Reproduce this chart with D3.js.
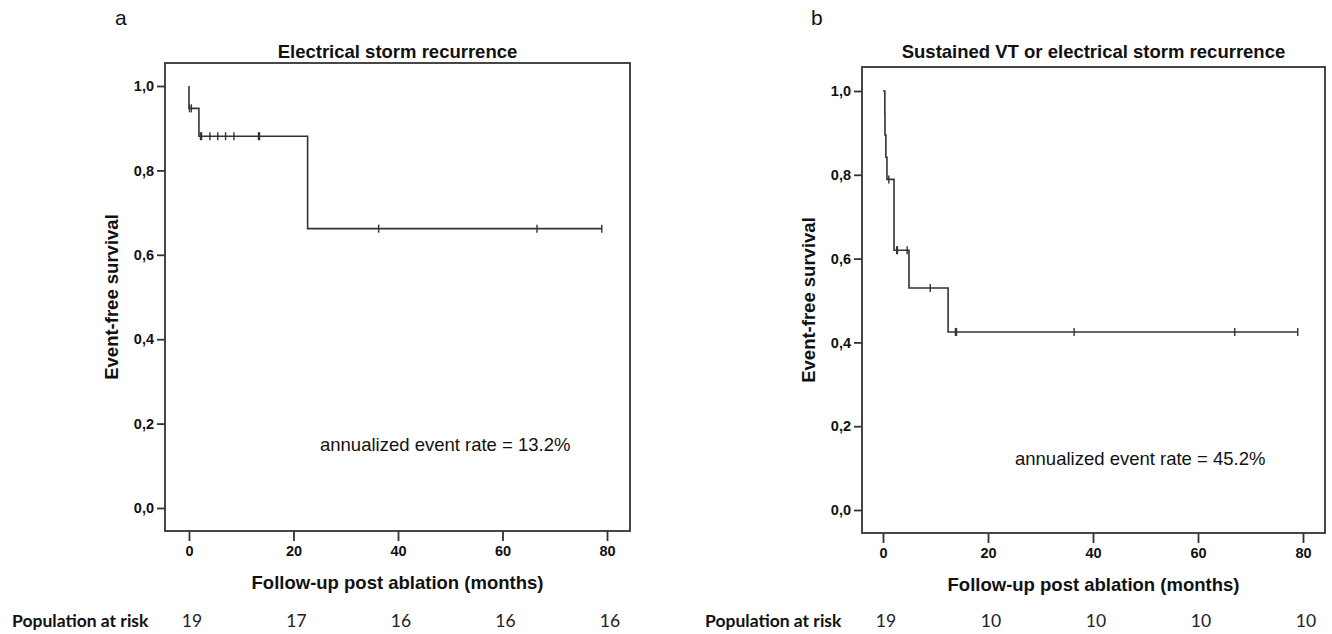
<!DOCTYPE html>
<html>
<head>
<meta charset="utf-8">
<script src="https://cdn.jsdelivr.net/npm/d3@7"></script>
<style>
  body { margin: 0; background: #fff; }
  svg { display: block; }
</style>
</head>
<body>
<svg id="chart" width="1332" height="634"></svg>
<script>
// Kaplan-Meier data
// panel a - electrical storm recurrence
const stormTimes = [0, 0, 1.9, 22.7, 79];
const stormSurv = [1.0, 0.947, 0.881, 0.662, 0.662];
const stormCensor = [0.1, 0.45, 2.2, 2.4, 4.0, 5.5, 7.0, 8.6, 13.3, 13.5, 36.3, 66.6, 79];

// panel b - sustained VT or electrical storm recurrence
const vtTimes = [0, 0.35, 0.38, 0.55, 0.75, 2.1, 4.95, 12.4, 79];
const vtSurv = [1.0, 0.947, 0.895, 0.842, 0.789, 0.62, 0.53, 0.425, 0.425];
const vtCensor = [1.1, 2.6, 2.75, 4.6, 9.0, 13.8, 14.0, 36.4, 67, 79];

// axis ticks and risk table
const xTicks = [0, 20, 40, 60, 80];
const yTicks = [0, 0.2, 0.4, 0.6, 0.8, 1.0];
const riskTimes = [0, 20, 40, 60, 80];
const riskStorm = [19, 17, 16, 16, 16];
const riskVT = [19, 10, 10, 10, 10];

const svg = d3.select("#chart");
const lineColor = "#333";
const fmt = d => d3.format(".1f")(d).replace(".", ",");

function drawPanel(p) {
  const g = svg.append("g");
  const x = d3.scaleLinear().domain([0, 80]).range([p.x0, p.x80]);
  const y = d3.scaleLinear().domain([0, 1]).range([p.y0, p.y1]);

  // panel letter
  g.append("text").attr("x", p.letterX).attr("y", 25)
    .attr("font-family", "Liberation Sans, Arial").attr("font-size", 21)
    .attr("fill", "#111").text(p.letter);

  // title
  g.append("text").attr("x", (p.left + p.right) / 2).attr("y", 58)
    .attr("text-anchor", "middle")
    .attr("font-family", "Liberation Sans, Arial").attr("font-weight", "bold")
    .attr("font-size", 18.5).attr("fill", "#111").text(p.title);

  // frame
  g.append("rect").attr("x", p.left).attr("y", p.top)
    .attr("width", p.right - p.left).attr("height", p.bottom - p.top)
    .attr("fill", "none").attr("stroke", lineColor).attr("stroke-width", 1.8);

  // y axis (ticks outside the frame)
  const yAxis = d3.axisLeft(y).tickValues(yTicks).tickFormat(fmt).tickSize(8).tickPadding(3);
  const ya = g.append("g").attr("transform", `translate(${p.left},0)`).call(yAxis);
  ya.select(".domain").remove();
  ya.selectAll("line").attr("stroke", lineColor).attr("stroke-width", 1.8);
  ya.selectAll("text").attr("font-family", "Liberation Sans, Arial")
    .attr("font-weight", "bold").attr("font-size", 14.5).attr("fill", "#111");

  // x axis
  const xAxis = d3.axisBottom(x).tickValues(xTicks).tickSize(10).tickPadding(5);
  const xa = g.append("g").attr("transform", `translate(0,${p.bottom})`).call(xAxis);
  xa.select(".domain").remove();
  xa.selectAll("line").attr("stroke", lineColor).attr("stroke-width", 1.8);
  xa.selectAll("text").attr("font-family", "Liberation Sans, Arial")
    .attr("font-weight", "bold").attr("font-size", 14.5).attr("fill", "#111");

  // axis titles
  g.append("text")
    .attr("transform", `translate(${p.left - 47},${(p.top + p.bottom) / 2}) rotate(-90)`)
    .attr("text-anchor", "middle")
    .attr("font-family", "Liberation Sans, Arial").attr("font-weight", "bold")
    .attr("font-size", 18.5).attr("fill", "#111").text("Event-free survival");
  g.append("text").attr("x", (p.left + p.right) / 2).attr("y", p.bottom + 58)
    .attr("text-anchor", "middle")
    .attr("font-family", "Liberation Sans, Arial").attr("font-weight", "bold")
    .attr("font-size", 18.5).attr("fill", "#111").text("Follow-up post ablation (months)");

  // survival curve
  const pts = p.times.map((t, i) => [t, p.surv[i]]);
  const line = d3.line().x(d => x(d[0])).y(d => y(d[1])).curve(d3.curveStepAfter);
  g.append("path").datum(pts).attr("d", line)
    .attr("fill", "none").attr("stroke", lineColor).attr("stroke-width", 1.6);

  // censor marks
  const bis = d3.bisector(d => d).right;
  const survAt = t => p.surv[Math.max(0, bis(p.times, t) - 1)];
  g.selectAll(".censor").data(p.censor).join("line")
    .attr("x1", d => x(d)).attr("x2", d => x(d))
    .attr("y1", d => y(survAt(d)) - 4).attr("y2", d => y(survAt(d)) + 4)
    .attr("stroke", lineColor).attr("stroke-width", 1.4);

  // annotation
  g.append("text").attr("x", p.noteX).attr("y", p.noteY)
    .attr("font-family", "Liberation Sans, Arial").attr("font-size", 18.5)
    .attr("fill", "#111").text(p.note);

  // population at risk
  g.append("text").attr("x", p.riskLabelX).attr("y", 627)
    .attr("font-family", "Lato, Open Sans, sans-serif").attr("font-weight", "bold")
    .attr("font-size", 17.5).attr("fill", "#111").text("Population at risk");
  g.selectAll(".risk").data(p.risk).join("text")
    .attr("x", (d, i) => x(riskTimes[i]) + 3).attr("y", 627)
    .attr("text-anchor", "middle")
    .attr("font-family", "Lato, Open Sans, sans-serif").attr("font-size", 17.5)
    .attr("fill", "#222").text(d => d);
}

drawPanel({
  letter: "a", letterX: 115, title: "Electrical storm recurrence",
  left: 165, right: 630, top: 63, bottom: 531,
  x0: 189, x80: 607, y0: 508, y1: 86,
  times: stormTimes, surv: stormSurv, censor: stormCensor,
  note: "annualized event rate = 13.2%", noteX: 320, noteY: 451,
  risk: riskStorm, riskLabelX: 12
});

drawPanel({
  letter: "b", letterX: 811, title: "Sustained VT or electrical storm recurrence",
  left: 862, right: 1325, top: 67, bottom: 533,
  x0: 883, x80: 1303, y0: 510, y1: 91,
  times: vtTimes, surv: vtSurv, censor: vtCensor,
  note: "annualized event rate = 45.2%", noteX: 1015, noteY: 465,
  risk: riskVT, riskLabelX: 705
});
</script>
</body>
</html>
